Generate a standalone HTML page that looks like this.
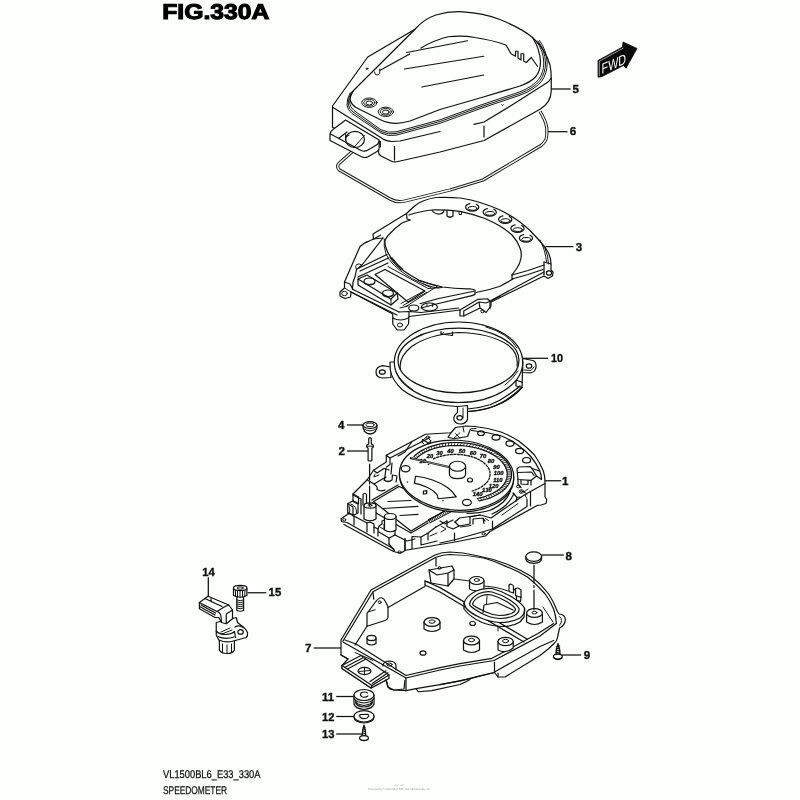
<!DOCTYPE html>
<html><head><meta charset="utf-8">
<style>
html,body{margin:0;padding:0;background:#fdfffd;}
body{width:800px;height:800px;overflow:hidden;font-family:"Liberation Sans",sans-serif;}
svg{display:block;position:absolute;left:0;top:0;will-change:transform;}
text{text-rendering:geometricPrecision;}
.l{fill:none;stroke:#111;stroke-width:1.22;stroke-linecap:round;stroke-linejoin:round;}
.t{fill:none;stroke:#111;stroke-width:.98;stroke-linecap:round;stroke-linejoin:round;}
.w{fill:#fdfffd;stroke:#111;stroke-width:1.22;stroke-linecap:round;stroke-linejoin:round;}
.wt{fill:#fdfffd;stroke:#1a1a1a;stroke-width:.7;stroke-linecap:round;stroke-linejoin:round;}
.n{font-family:"Liberation Sans",sans-serif;font-weight:bold;font-size:11.6px;fill:#111;stroke:#111;stroke-width:.35px;}
.ld{fill:none;stroke:#111;stroke-width:1.25;}
</style></head><body>
<svg width="800" height="800" viewBox="0 0 800 800">
<rect width="800" height="800" fill="#fdfffd"/>
<!-- TITLE -->
<text x="162.3" y="18.7" font-family="Liberation Sans" font-weight="bold" font-size="21.3" fill="#000" stroke="#000" stroke-width="1.1" textLength="107" lengthAdjust="spacingAndGlyphs">FIG.330A</text>
<!-- FOOTER -->
<text x="163" y="778.3" font-family="Liberation Sans" font-size="11.2" fill="#111" stroke="#111" stroke-width=".25" textLength="97.5" lengthAdjust="spacingAndGlyphs">VL1500BL6_E33_330A</text>
<text x="163" y="793.8" font-family="Liberation Sans" font-size="11.2" fill="#111" stroke="#111" stroke-width=".25" textLength="64" lengthAdjust="spacingAndGlyphs">SPEEDOMETER</text>
<text x="368" y="789.6" font-family="Liberation Sans" font-size="3" fill="#9a9a9a" textLength="61.8" lengthAdjust="spacingAndGlyphs">Powered by © 2004-2017 EPC Net AlphaCentre, Inc</text>
<text x="394.4" y="786.3" font-family="Liberation Sans" font-size="1.8" fill="#aaa" textLength="10" lengthAdjust="spacingAndGlyphs">EPC NET</text>
<!--PART6-->
<g id="p6">
<path d="M354,150 L339,163.5 Q336,166.5 339.5,170 L390,199 Q397,203 405,201 L450,190 L483,180 L541,145.5 Q546.8,141 546.8,135 L546.8,128 Q545.5,120 540,111.5" fill="none" stroke="#1a1a1a" stroke-width="3.2" stroke-linejoin="round"/>
<path d="M354,150 L339,163.5 Q336,166.5 339.5,170 L390,199 Q397,203 405,201 L450,190 L483,180 L541,145.5 Q546.8,141 546.8,135 L546.8,128 Q545.5,120 540,111.5" fill="none" stroke="#fdfffd" stroke-width="1.3" stroke-linejoin="round"/>
</g>

<!--PART5-->
<g id="p5">
<!-- silhouette -->
<path class="w" d="M332.5,106 L367.75,57 L415,29.25 C421,22.5 428,17.5 436,15 C445,12.3 455,11.3 463,11.8 C476,12.5 490,15.5 500,19.5 C512,24.5 525,31 532.5,37.5 C540,44 547,55 550,65 C551,70 551.25,75 551.25,78 L551.25,91 C551,99 548,104.5 540,109.3 L484,140.5 L440,152 L398,161.5 Q394,162.5 391,161 L381,156 Q378.5,154.5 378.5,152 L378.5,140 L332.5,127.5 Z"/>
<!-- skirt top edge c -->
<path class="l" d="M333,107.5 L380,137 Q386,141.5 392,141.5 L400,141 L440,131.5"/>
<!-- crease right -->
<path class="l" d="M474,124.4 L484,122 L512,105 L545,84 Q550,81 551.2,78"/>
<path class="l" d="M484,126 L484,137"/>
<path class="l" d="M394.5,146.5 L394.5,160"/>
<path class="t" d="M380.5,141.5 L380.5,147"/>
<!-- seams -->
<path class="t" d="M351.5,92 Q348,98 348.2,104 Q348.5,108.5 353,112 L381,131.5 Q388,135 396,133.5 L440,121.5 L480,107 L520,93.5 Q534,88 540,80.5 Q545.5,73 545.5,63 Q545,50 538,41"/>
<path class="t" d="M350,93 Q346.8,99 347,105 Q347.5,110 352,113.5 L381,133 Q388,136.8 396,135.2 L440,123.3 L480,108.7 L520,95.2 Q535,89.5 541.5,81.5 Q547.2,73.5 547.2,63 Q546.5,50 539.5,40.5"/>
<path class="t" d="M353,91 Q349.6,97 349.6,103 Q350,107 354,110.5 L381,129.8 Q388,133.2 396,131.8 L440,119.8 L480,105.3 L520,91.8 Q533,86.5 538.5,79.5 Q543.8,72.5 543.8,63 Q543.5,50 536.5,41.5"/>
<!-- dome top edge e -->
<path class="l" d="M415,29.25 L354,90 Q349,96 350.5,101 Q351.5,104.5 356,107.5 L380,119.5 Q388,123.5 397,123.3 Q403,123 410,121 L440,109.5 L480,98 L520,86 Q530,82.5 535.5,77 Q540.5,71 540.5,62 Q540,49 532.5,37.5"/>
<!-- crease lines on dome -->
<path class="l" d="M406.75,52.5 L467.5,40.75"/>
<path class="l" d="M404.5,69 L483.75,56.25"/>
<path class="l" d="M421.75,87 L483.75,75"/>
<path class="l" d="M421,48 Q433,40.5 448,36.75 Q462,35 475,37.5 Q492,40 506,45 L511,53.75 L515.5,56.25 L515.5,51.25 L518,51.25 L518,58 L521,60 L521,53.75 L523.75,53.75 L523.75,61.25 L526.25,62.5 L531.25,57.5 L537.5,66.25"/>
<path class="l" d="M409.75,54 L379.75,70.5"/>
<path class="t" d="M379.75,69 Q380.5,75 377,75 Q374.5,75 374.5,72"/>
<circle cx="367" cy="68.7" r=".8" class="t"/>
<path class="t" d="M501.6,104.8 Q502.4,106.8 503.4,104.8"/>
<!-- bolts -->
<g class="t"><ellipse cx="369.3" cy="102.7" rx="7.6" ry="4.7"/><ellipse cx="369.3" cy="102.7" rx="5.6" ry="3.4"/><ellipse cx="369.3" cy="103" rx="3.4" ry="2"/>
<ellipse cx="385.8" cy="111.8" rx="7.6" ry="4.7"/><ellipse cx="385.8" cy="111.8" rx="5.6" ry="3.4"/><ellipse cx="385.8" cy="112.1" rx="3.4" ry="2"/></g>
<!-- tab -->
<path class="w" d="M345.6,120 L333,129.5 Q330,131.5 330,134.5 L330,140.5 L361.5,156.7 Q365,158.3 368,156.7 L377,151.5 Q379.2,150.3 379.2,148 L379.2,140 Z"/>
<path class="l" d="M330.6,134 L361,150.5 Q364.5,152 367.5,150.3 L376.5,145 Q379,143.5 379.1,141"/>
<ellipse class="l" cx="355" cy="139.4" rx="9.4" ry="8.1"/>
<path class="t" d="M364.5,135.5 L354,147.2"/>
<path class="l" d="M338.7,138.2 L347,132"/><path class="l" d="M345.7,134.5 L345.7,140"/>
<path class="t" d="M346,137 L349,135.3"/>
</g>

<!--PART3-->
<g id="p3">
<path class="w" d="M406.5,213.5 L414,206.5 Q418,203 423,201 Q429,198.5 436,197.5 Q448,197 460,198 Q472,199.8 480,202.5 Q491,206 500,210 Q511,215.5 520,222 Q530,229.5 538,239 Q545,247 548,252 Q551,258 551,264 L551,270 L553,272 L552.5,276 L548,278.5 L544,276 L491,302 L491,306 L486,312.5 L480,308 L463.75,316 L460,316 L460,310 L409,316.5 L408.5,324 L404,330 L397.25,330 L392.75,324 L392.75,314 L351,292 L350.5,297 L345,298.5 L340,296 L340,292 L344.5,288 L344.5,282 L360,246.5 L364,243.5 L373.5,239 L373,234 Z"/>
<!-- back inner edge of ring (double) -->
<path class="l" d="M410,220 L407,219 L406.5,213.5 M409,215 Q414,213 420,212 Q426,210.5 432,210 Q446,209.8 460,211.3 Q473,214 485,218.5 Q493,222 500,226 Q507,230.5 512,235 Q517.5,241 520,248 Q522,253 521,258 Q520,264 517,268 L512,275" stroke-width="1.4"/>
<!-- ring right front end -->
<path class="l" d="M512,275 L512,279 L528,274.5 L543,269.5"/>
<path class="l" d="M512,275 L528,270.5 L544,265"/>
<path class="l" d="M513,279 Q506,283 500,286.25 Q488,290.5 476,292.5"/>
<path class="l" d="M490,301.25 L500,296.25"/>
<!-- d arc & arm -->
<path class="l" d="M410,220 L402,223 Q395,228 390,233.5 Q385.5,238 385,241 Q384.8,245 386,248 Q388,254 392,259 Q397,265 404,271 Q411,276 418.75,280 Q430,284.5 442.5,287 Q456,289 470,288.75 L475,290 L475,294.4 L472,295.6"/>
<path class="l" d="M473.75,291.25 L437.5,298.75 L420,303.75"/>
<path class="l" d="M472,295.6 L437.5,303.75 L421,308"/>
<path class="t" d="M384.3,239 Q383.3,246 386,254 Q389,260 393,264 Q398.5,270 405,274 Q412,279 420,282.5 Q427,285.5 433,287 L439,288"/>
<path class="t" d="M390,258 Q394,264 401,270 M392,257.5 Q396,263.5 403,269.5"/>
<!-- gusset -->
<path class="l" d="M383,238 L362,265 L356.5,269.5"/>
<path class="l" d="M383,238 L373.5,239"/>
<path class="t" d="M356.5,269.5 Q354.5,266.5 356.5,264.5 Q359,263 362,265"/>
<path class="t" d="M364,243.5 Q365,241.5 368,241.5"/>
<path class="l" d="M373.5,239 L380.5,235.2"/>
<!-- panel frame -->
<path class="l" d="M359,268 L387,254.5"/>
<path class="l" d="M360,271 L388.5,258"/>
<path class="l" d="M358,277 L388,263"/>
<path class="l" d="M356.5,269.5 L355,277 L353,282 L352.5,289"/>
<path class="l" d="M344.5,282 L350,284 L353,289.5"/>
<path class="l" d="M375,274.5 L385,269.5 L425,291 L408,302 Z"/>
<path class="t" d="M388,266.5 L428,288.5 L442,287.5"/>
<path class="t" d="M403,305.5 L426.5,292.5 M401,303.5 L424,291"/>
<path class="t" d="M418,280.5 L437.5,286 L406,306.5"/>
<path class="t" d="M422,283.5 L431,287.5"/>
<!-- block -->
<path class="w" d="M358,279 L367,275 L397,293 L398,299 L391,305 L358,285 Z"/>
<path class="l" d="M358,279 L391,299 L397,293"/><path class="t" d="M391,299 L391,305"/>
<ellipse class="l" cx="369.5" cy="281.5" rx="5.5" ry="3.5"/><path class="t" d="M364.6,283 Q369.5,286.3 374.6,282.8"/>
<ellipse class="l" cx="388" cy="293.5" rx="5.5" ry="3.5"/><path class="t" d="M383.2,295 Q388,298.3 393.2,294.8"/>
<!-- bottom rail -->
<path class="l" d="M351,292 L397,315" stroke-width="1.7"/>
<path class="l" d="M353,289.5 L399,312"/>
<path class="l" d="M399,312 L409,311.5 L421,312.5 L458.75,308"/>
<path class="l" d="M409,316.5 L409,311.5"/>
<ellipse class="l" cx="413.75" cy="308" rx="5" ry="3"/>
<ellipse class="l" cx="429.4" cy="307" rx="8" ry="4"/>
<path class="t" d="M427,304.5 L427,306.5 M432.5,304.5 L432.5,306.5"/>
<path class="t" d="M400,308 L408,306"/>
<!-- foot -->
<path class="l" d="M392.75,318 Q400,322 408.5,318"/>
<ellipse class="t" cx="400" cy="325" rx="2.6" ry="2"/>
<ellipse class="t" cx="344.5" cy="293.5" rx="2.8" ry="2.2"/>
<path class="t" d="M344.5,288 L351,292"/>
<!-- bottom-right mount -->
<path class="l" d="M460,310 L477.5,299.4 L487.5,298.75 L490,301.25 L490,308.75"/>
<path class="l" d="M463.75,316 L463.75,311 L479,302 L486,303 L490,301.25 M479,302 L480,308"/>
<ellipse class="t" cx="482.5" cy="311.3" rx="1.8" ry="1.4"/>
<path class="l" d="M491,300.5 L544,272" stroke-width="1.8"/>
<!-- right mount -->
<path class="l" d="M544,262 L551,264"/>
<path class="l" d="M544,262 L544,275"/>
<ellipse class="l" cx="549" cy="273" rx="2.6" ry="2.2"/>
<path class="t" d="M545,248 Q548.5,256 548.5,264"/>
<path class="t" d="M540,240 Q545.5,250 546.5,262"/>
<!-- holes -->
<g class="l">
<ellipse cx="472.25" cy="207.25" rx="6.6" ry="3.9" stroke-dasharray="22.5 6.5 6"/><ellipse cx="472.45" cy="208.35" rx="4.6" ry="1.9" stroke-width="1"/><ellipse cx="489.75" cy="212.25" rx="6.6" ry="3.9" stroke-dasharray="22.5 6.5 6"/><ellipse cx="489.95" cy="213.35" rx="4.6" ry="1.9" stroke-width="1"/><ellipse cx="505.25" cy="219.50" rx="6.6" ry="3.9" stroke-dasharray="22.5 6.5 6"/><ellipse cx="505.45" cy="220.60" rx="4.6" ry="1.9" stroke-width="1"/><ellipse cx="517.50" cy="228.50" rx="6.6" ry="3.9" stroke-dasharray="22.5 6.5 6"/><ellipse cx="517.70" cy="229.60" rx="4.6" ry="1.9" stroke-width="1"/><ellipse cx="526.00" cy="238.25" rx="6.6" ry="3.9" stroke-dasharray="22.5 6.5 6"/><ellipse cx="526.20" cy="239.35" rx="4.6" ry="1.9" stroke-width="1"/>
</g>
<!-- back tabs -->
<path class="l" d="M432,210.5 Q435,214.5 440,214 Q444,213 444,210"/>
<path class="l" d="M447,210.5 L447,216 Q450,218.5 453,216 L453,211"/>
<path class="t" d="M459,212 L459,214.5 L461.5,214.5 L461.5,212"/>
</g>

<!--PART10-->
<g id="p10">
<!-- tabs -->
<path class="w" d="M391,367 L382.5,365.6 Q376,367 376,372 Q376,377.5 382.5,378 L391,377.5 Z"/>
<ellipse class="l" cx="382.3" cy="372" rx="3" ry="2.2"/>
<path class="w" d="M522.5,358.5 L533,360.5 Q536.5,362 536,367.5 Q535,372.5 530,372.8 L522.5,372.5 Z"/>
<ellipse class="l" cx="529" cy="366" rx="2.8" ry="2.2"/>
<path class="t" d="M524,370 L531,370.5 L534,367"/>
<!-- flange outer -->
<path class="w" d="M390,362 L390.3,370 Q392,380 402,389.5 Q414,399 432,403 Q445,406 457,406.5 L468,411.5 Q486,410.5 502,403 Q515,396 522,387.5 L522.8,362 Z"/>
<path class="w" d="M457.5,406.5 L467.5,405.5 L467.5,419.5 Q466,423.5 461,424 Q455.5,424 454,420 Q453,416 457.5,412.5 Z"/>
<ellipse class="l" cx="459.7" cy="417.8" rx="2.8" ry="2.2"/>
<path class="t" d="M463,408 L463,418"/>
<path class="l" d="M467.5,409 Q480,408 490,404.75 Q500,401 508,395 Q516,389.5 520,386"/><path class="l" d="M467.5,411.5 Q480,411 490,407.75 Q502,403.5 511,396.5 Q518,391.5 521.5,387.5"/>
<path class="l" d="M516,380 L522.5,382.5 M516,380 L516,386 L522.5,387.5"/>
<!-- E1 -->
<ellipse class="w" cx="458.5" cy="362.25" rx="64.2" ry="40.25"/>
<!-- highlight lines -->
<path class="t" d="M396,372 Q400,381 413,390"/>
<path class="t" d="M399,356 Q404,343 422,334"/>
<path class="t" d="M401.5,357 Q407,345 428,335"/>
<path class="t" d="M486,327 Q508,333 517,348"/>
<path class="t" d="M505,385 Q513,379 518,371"/>
<!-- E2 -->
<ellipse class="w" cx="458.5" cy="360.5" rx="60.5" ry="32.3"/>
<!-- E3 far inside wall lower edge -->
<path class="l" d="M400.5,370 Q398,358 411,347 Q428,334.5 458,332.5 Q490,333 508,345 Q519,354 517,366"/>
<path class="l" d="M441,331.5 L441,334 L452.5,335.5 L452.5,332"/>
<path class="t" d="M441,334 L443.5,332.6"/>
</g>

<!--PART1-->
<g id="p1">
<path class="w" d="M425.5,434.25 L451,432.75 L455.5,427.5 L466,426 L475,426.5 Q489,428 501,432 Q511,436 518.75,441 Q528,448 534.5,455 Q540,463 543.25,470.75 Q545,476 545,481.25 L545,497 L546.8,499.5 L546,503.5 L541,505 L537.5,505.3 L490,531.5 L485.5,536 L455,542 L405.5,550.25 L401,553 L395,552 L393.5,548.75 L347,522.5 L341.75,521.75 L341,518.75 L347.75,514.25 L347.75,503.75 L353,500.75 L353,494 L367.25,479.75 L373.5,470.25 L386.25,462 L386.25,455.25 Z"/>
<!-- inner rim arc -->
<path class="l" d="M471.5,430.5 Q487,432 501,435.75 Q510,439.5 517,444.5 Q525,450 531,456.75 Q536.5,463.5 539.75,470.75 Q541.5,475 541.5,479.5"/>
<!-- rim holes -->
<g class="l"><ellipse cx="481" cy="433.2" rx="3.3" ry="2.3"/><ellipse cx="496" cy="437.5" rx="3.9" ry="2.6"/><ellipse cx="510" cy="443.6" rx="4" ry="2.7"/><ellipse cx="519.6" cy="451" rx="4" ry="2.7"/><ellipse cx="526.6" cy="460.2" rx="4" ry="2.7"/></g>
<!-- back bracket -->
<path class="l" d="M451,432.75 L448,437.25 L454,438.75 L467.5,436.5 L470.5,429 L476,428.5"/>
<path class="l" d="M422.5,439.5 L430,444 L430.75,440.25"/>
<path class="t" d="M455.5,433.5 L460,438 M460,432.75 L454,438 M463,427 L464,432"/>
<path class="t" d="M426.5,437 L421,441.5 L424,444 M428,438 L431,441 L427,444"/>
<ellipse class="t" cx="427.75" cy="437.25" rx="1.6" ry="1.2"/>
<!-- left/top wall lines -->
<path class="l" d="M386.25,455.25 L390,458 L430,437.5"/>
<path class="l" d="M390,458 L390,464.5 L386.5,467"/>
<path class="l" d="M412,441.5 L405,452 L398,456"/>
<path class="l" d="M373.5,470.25 L377,473 L384,468.5 L389,470"/>
<path class="t" d="M375,474 L373.8,477 L379,475"/>
<path class="l" d="M386,468 L384.5,480 M392,463 L391,474"/>
<path class="l" d="M384,480 Q388,483 392,480 L392.5,475 L397,476 L396,482"/>
<path class="l" d="M367.25,479.75 L374,484 L386,477"/>
<path class="l" d="M374,484 Q378,486.5 377,489.5 Q381,492 385,490"/>
<path class="l" d="M353,494 L358.5,497 L358.5,503.5"/>
<path class="l" d="M347.75,503.75 L353,507 L353,516"/>
<path class="l" d="M353,500.75 L358.5,503.5"/>
<path class="t" d="M349,506 Q351,510 349,514.5"/>
<ellipse class="t" cx="344.2" cy="519.8" rx="1.6" ry="1.2"/>
<!-- front-left wall details -->
<path class="l" d="M353,501.5 L358,504 L358,513 L354,515 L348.5,513"/>
<path class="t" d="M351,504 Q357,506 356.5,513"/>
<path class="l" d="M353,495 L361,499 L361,514"/>
<path class="l" d="M348.5,513 L354,516 L367,523 L370,522"/>
<path class="l" d="M354,516 L354,525 M367,523 L367,532"/>
<path class="l" d="M370,522 L374,524 L374,533"/>
<path class="l" d="M374,527 L378,529 L379,526 L382,524 L382,521 L384.5,520"/>
<path class="l" d="M378,529 L378,536 M379,532 L389,538 L389,544"/>
<path class="l" d="M389,538 L395,535 L395,530"/>
<path class="l" d="M395,535 L407,541 L415,539"/>
<path class="l" d="M389,544 L394,550"/>
<path class="t" d="M380,527 L384,529.5 L384,524"/>
<path class="l" d="M344,524.5 L393.5,551.5" stroke-width="1.6"/>
<ellipse class="t" cx="399.5" cy="552.2" rx="1.7" ry="1.3"/>
<path class="l" d="M405,541 L405,550"/>
<!-- LCD panel -->
<path class="w" d="M373.5,501.5 L399,486.5 L449,508.25 L411,531 Z"/>
<path class="l" d="M372.5,503 L376,513 L411,533 L428,523"/>
<path class="l" d="M372,500 L398,485" stroke-width="1.6"/>
<path class="l" d="M388,501.5 L411,500.5 M383,508.5 L418,506.3 M400,515.5 L418,514.4"/>
<!-- ribbed connector -->
<path d="M429,521.3 L450,510.300" fill="none" stroke="#111" stroke-width="3.2" stroke-dasharray=".8 1"/>
<path class="t" d="M428.2,519.7 L449.2,508.6 M429.8,523 L450.8,512"/>
<!-- posts -->
<path class="w" d="M364,505.5 L364,519 Q370,522.5 376,519 L376,505.5 Z"/>
<ellipse class="w" cx="370" cy="505.5" rx="6" ry="2.7"/>
<ellipse class="t" cx="370" cy="505.3" rx="2" ry="1"/>
<path class="l" d="M363,494.5 Q364.7,492 366.5,494.5 L366.5,503.5 M363,494.5 L363,505"/>
<path class="w" d="M384.5,516.5 L384.5,530 Q390.2,533.5 396,530 L396,516.5 Z"/>
<ellipse class="w" cx="390.2" cy="516.5" rx="5.8" ry="3"/>
<!-- right block -->
<path class="w" d="M517,469 L519,467 L530,466.5 L532,468.5 L536.5,476 L531,480.4 L518,479.5 Z"/>
<path class="l" d="M518,472.5 L531.5,472 L534,475.5 M518,479.5 L518,484 L521,487.5 M531,480.4 L531,485"/>
<path class="l" d="M521,480 L521,484 L528,484.5 L528,480.5"/>
<path class="l" d="M536.5,476 L541.5,479.5 M532,468.5 L539.5,471"/>
<ellipse class="t" cx="518.3" cy="486.5" rx="1.8" ry="1.4"/>
<ellipse class="t" cx="521.5" cy="491.5" rx="2.3" ry="1.8"/><ellipse class="t" cx="521.5" cy="491.5" rx="1" ry=".8"/>
<!-- front right wall -->
<path class="l" d="M545,483.5 L530.5,491.5 L530.5,506"/>
<path class="l" d="M530.5,491.5 L525,494.5 L491,518 L480.5,515 L459.5,518 L455,522"/>
<path class="l" d="M527,499 L527,506.5 L492.5,529 L455,539.75 L440,543"/>
<path class="l" d="M492.5,521 L492.5,529 M454.5,533 L454.5,541"/>
<path class="l" d="M510.5,491 Q508,497.5 503,502.25 Q497,507.5 489.5,510.5 Q479,513.5 467,513.5"/>
<path class="l" d="M514,493.5 Q511,500 506,505 Q500,510.5 492,514"/>
<path class="t" d="M502,515 L518,503.5"/>
<path class="l" d="M513,493 L517,497.5 L516,501.5 M517,497.5 L520,497"/>
<path class="t" d="M525,495 L526.5,498 M528,489 L524,492 L527,494"/>
<path class="l" d="M455,522 L459,526 L470,524 L470,517 L480,515"/>
<path class="l" d="M473,524 L473,519 L483,518 L485,521 M483,518 L484,523.5"/>
<path class="l" d="M459,526 L453,529 L447,526.5 L447,521"/>
<path class="t" d="M460.5,527 L471,525.5 M485.5,518.5 L488.5,520.5"/>
<ellipse class="t" cx="483.5" cy="533.8" rx="1.6" ry="1.2"/>
<path class="l" d="M440,521 L445,524 L453,520 M436,527 L447,521 M428,533 L428,540 M421,537 L421,545 L437,541"/>
<path class="l" d="M412,536.5 L412,548.5 M412,536.5 L421,537 L428,533 L436,527"/>
<path class="l" d="M405,538.5 L405,550"/>
<path class="t" d="M441,526 L446,529 L441,532 M430,536 L437,533"/>
<!-- dial -->
<ellipse class="w" cx="456.6" cy="476.8" rx="57.2" ry="35.2" transform="rotate(3 456.6 476.8)"/>
<ellipse class="w" cx="456.6" cy="475.2" rx="57.2" ry="35" transform="rotate(3 456.6 475.2)"/>
</g>

<g id="p1dial">
<path d="M416.3,458.6 L413.9,456.5 M417.7,457.2 L415.5,455.0 M419.4,455.8 L417.3,453.5 M421.1,454.5 L419.2,452.1 M423.1,453.3 L421.3,450.8 M425.1,452.2 L423.5,449.5 M427.3,451.1 L425.9,448.4 M429.6,450.1 L428.4,447.3 M432.1,449.2 L431.0,446.4 M434.6,448.4 L433.7,445.5 M437.2,447.7 L436.6,444.8 M439.9,447.1 L439.5,444.1 M442.7,446.6 L442.5,443.6 M445.5,446.2 L445.5,443.1 M448.4,445.9 L448.6,442.8 M451.4,445.6 L451.8,442.6 M454.3,445.5 L455.0,442.5 M457.3,445.5 L458.2,442.5 M460.3,445.6 L461.4,442.6 M463.3,445.8 L464.6,442.9 M466.3,446.1 L467.8,443.3 M469.2,446.6 L470.9,443.7 M472.1,447.1 L474.1,444.3 M474.9,447.7 L477.1,445.0 M477.7,448.4 L480.1,445.8 M480.5,449.2 L483.0,446.7 M483.1,450.1 L485.8,447.7 M485.6,451.0 L488.5,448.8 M488.1,452.1 L491.2,450.0 M490.4,453.2 L493.6,451.2 M492.6,454.4 L496.0,452.6 M494.7,455.7 L498.2,454.0 M496.6,457.1 L500.3,455.5 M498.4,458.5 L502.2,457.1 M500.1,459.9 L504.0,458.7 M501.6,461.4 L505.6,460.4 M502.9,463.0 L507.0,462.1 M504.0,464.6 L508.2,463.8 M505.0,466.2 L509.2,465.6 M505.8,467.9 L510.1,467.4 M506.5,469.5 L510.7,469.3 M506.9,471.2 L511.2,471.1 M507.2,472.9 L511.5,473.0 M507.3,474.6 L511.5,474.8 M507.1,476.2 L511.4,476.7 M506.9,477.9 L511.1,478.5 M506.4,479.5 L510.5,480.3 M505.7,481.1 L509.8,482.1 M504.9,482.7 L508.9,483.8 M503.9,484.3 L507.8,485.5 M502.7,485.8 L506.5,487.1 M501.3,487.2 L505.0,488.7 M499.8,488.6 L503.4,490.2 M498.2,490.0 L501.6,491.7 M496.3,491.2 L499.6,493.1 M494.4,492.4 L497.5,494.4 M492.3,493.5 L495.2,495.6 M490.1,494.6 L492.8,496.7 M487.7,495.5 L490.3,497.7 M485.3,496.4 L487.7,498.7 M482.7,497.2 L484.9,499.5 M480.1,497.9 L482.0,500.2 M477.3,498.5 L479.1,500.9" fill="none" stroke="#111" stroke-width=".8"/>
<path class="l" d="M413.9,456.5 L415.6,454.9 L417.4,453.4 L419.4,452.0 L421.6,450.6 L423.9,449.3 L426.4,448.2 L429.0,447.1 L431.7,446.1 L434.6,445.3 L437.5,444.5 L440.6,443.9 L443.7,443.4 L446.9,443.0 L450.1,442.7 L453.4,442.5 L456.7,442.5 L460.0,442.6 L463.3,442.8 L466.6,443.1 L469.9,443.6 L473.1,444.1 L476.3,444.8 L479.4,445.6 L482.4,446.5 L485.4,447.5 L488.2,448.6 L490.9,449.9 L493.5,451.2 L495.9,452.5 L498.2,454.0 L500.4,455.6 L502.3,457.2 L504.1,458.9 L505.8,460.6 L507.2,462.4 L508.4,464.2 L509.4,466.1 L510.3,467.9 L510.9,469.8 L511.3,471.7 L511.5,473.7 L511.5,475.6 L511.3,477.5 L510.8,479.3 L510.2,481.2 L509.4,483.0 L508.3,484.8 L507.0,486.5 L505.6,488.1 L504.0,489.7 L502.2,491.3 L500.2,492.7 L498.0,494.1 L495.7,495.3 L493.2,496.5 L490.6,497.6 L487.9,498.6 L485.1,499.5 L482.1,500.2 L479.1,500.9"/>
<path class="l" d="M416.3,458.6 L417.8,457.1 L419.5,455.7 L421.3,454.4 L423.3,453.1 L425.5,452.0 L427.8,450.9 L430.2,449.9 L432.7,449.0 L435.4,448.2 L438.1,447.5 L440.9,446.9 L443.8,446.4 L446.8,446.0 L449.8,445.7 L452.9,445.6 L455.9,445.5 L459.0,445.6 L462.1,445.7 L465.2,446.0 L468.2,446.4 L471.2,446.9 L474.2,447.5 L477.1,448.2 L479.9,449.0 L482.7,449.9 L485.3,450.9 L487.8,452.0 L490.2,453.1 L492.5,454.4 L494.7,455.7 L496.7,457.1 L498.5,458.6 L500.2,460.1 L501.7,461.6 L503.1,463.3 L504.3,464.9 L505.2,466.6 L506.0,468.3 L506.6,470.0 L507.0,471.8 L507.2,473.5 L507.2,475.2 L507.0,477.0 L506.7,478.7 L506.1,480.3 L505.3,482.0 L504.3,483.6 L503.2,485.2 L501.9,486.7 L500.4,488.2 L498.7,489.6 L496.8,490.9 L494.9,492.1 L492.7,493.3 L490.4,494.4 L488.0,495.4 L485.5,496.3 L482.9,497.1 L480.1,497.8 L477.3,498.5"/>
<g font-family="Liberation Sans" font-weight="bold" font-style="italic" font-size="5.8" fill="#111" stroke="#111" stroke-width=".35" text-anchor="middle">
<text x="422.7" y="463.0">10</text>
<text x="430.0" y="458.2">20</text>
<text x="439.5" y="454.8">30</text>
<text x="450.4" y="453.0">40</text>
<text x="461.9" y="453.0">50</text>
<text x="473.1" y="454.8">60</text>
<text x="483.1" y="458.2">70</text>
<text x="491.0" y="463.1">80</text>
<text x="496.4" y="468.9">90</text>
<text x="498.7" y="475.2">100</text>
<text x="497.8" y="481.6">110</text>
<text x="493.7" y="487.5">120</text>
<text x="486.8" y="492.4">130</text>
<text x="477.6" y="496.0">140</text>
</g>
<path d="M433.0,459.1 L434.5,458.4 L436.0,457.8 L437.6,457.2 L439.3,456.7 L441.0,456.2 L442.8,455.8 L444.6,455.4 L446.5,455.1 L448.3,454.8 L450.2,454.6 L452.2,454.5 L454.1,454.4 L456.0,454.4 L458.0,454.5 L459.9,454.6 L461.8,454.7 L463.7,455.0 L465.6,455.3 L467.4,455.6 L469.2,456.0 L471.0,456.5 L472.7,457.0 L474.3,457.6 L475.9,458.2 L477.5,458.9 L478.9,459.6 L480.3,460.4 L481.6,461.2 L482.9,462.1 L484.0,463.0 L485.1,463.9 L486.0,464.8 L486.9,465.8 L487.7,466.8 L488.3,467.9 L488.9,468.9 L489.3,470.0 L489.7,471.1 L489.9,472.2 L490.1,473.3 L490.1,474.4 L490.0,475.4 L489.8,476.5 L489.5,477.6 L489.1,478.7 L488.6,479.7 L488.0,480.8 L487.2,481.8 L486.4,482.8 L485.5,483.7 L484.5,484.6 L483.4,485.5 L482.2,486.4 L480.9,487.2 L479.6,488.0 L478.1,488.7 L476.6,489.4 L475.0,490.0 L473.4,490.6 L471.7,491.1" fill="none" stroke="#111" stroke-width="1.3" stroke-dasharray="3 .5"/>
<!-- needle -->
<path d="M410,458 L448.75,467" fill="none" stroke="#111" stroke-width="2"/>
<path d="M412,458.5 L448,466.8" fill="none" stroke="#fdfffd" stroke-width=".5"/>
<!-- hub -->
<path class="w" d="M449.4,466.25 L449.4,473.75 Q449.4,478.7 457.5,478.7 Q465.6,478.7 465.6,473.75 L465.6,466.25 Z"/>
<ellipse class="w" cx="457.5" cy="466.25" rx="8.1" ry="5"/>
<!-- holes -->
<ellipse class="l" cx="405.6" cy="468.75" rx="4.4" ry="3.1"/>
<ellipse class="l" cx="470" cy="480" rx="2.5" ry="2"/>
<ellipse class="l" cx="466.9" cy="502.5" rx="4.4" ry="3.1"/>
<!-- window -->
<path class="l" d="M415.6,476.25 Q424,477 432.5,480 Q441,483 447.5,487.5 Q453,491.5 456.25,496.9 L438.1,498.75 Q438,495 436.25,493.75 Q433,490 427.5,487.5 Q421,484.5 414.4,483.1 Z"/>
<path class="l" d="M423.5,491 L426.8,490.6 L426.6,493.6 L423.3,494 Z"/>
<circle cx="407.5" cy="482" r=".8" fill="#111"/><circle cx="443" cy="500.7" r=".8" fill="#111"/>
<circle cx="428.5" cy="464.5" r=".8" fill="#111"/>
</g>
<!--PART7-->
<g id="p7">
<!-- silhouette -->
<path class="w" d="M341,640 L371,590 L435,555 Q442,552 450,552 Q463,552.5 475,555.25 Q492,558.5 506.5,564 Q520,569.5 531,576.25 Q541,584 548.5,593.75 Q554,602 557.25,611.25 L559,614 Q565.5,614.5 565.3,620 Q565,625.5 559.5,628 L557.5,637.5 Q557,641 554,643.5 L548.8,648.5 L540,655.5 L505,677 L498,677 L494.5,672.5 L460,680.8 L440,684.7 L416,688.6 L406,690.6 L394,690 L388,687 L386,680 L371,688 L342,668.5 L342,665.5 L348,659 L341,655 Z"/>
<!-- rim inner line -->
<path class="l" d="M343,641 L373,591.7 L436,557.2 Q443,554.5 450,554.5 Q468,555 483.75,558 Q496,561.5 506.5,566.6 Q518,571 527.5,577 Q537,584.5 545,593.75 Q551,602 553.75,609.5 Q556,616 556.4,623.5"/>
<!-- front-left inner top edge -->
<path class="l" d="M343,642 L406,678 L440,670 L460,666 L494,660.5 L540,636 L556.4,623.5"/>
<path class="l" d="M345,640 L356,644 M356,644 L406,675.5 L440,667.6 L460,663.7 L492,658.3 L538,633.5 L553.75,623.5"/>
<path class="l" d="M406,678 L406,690.6"/>
<path class="l" d="M494.5,662 L494.5,672.5"/><path class="l" d="M494.5,672 L498,670 L540,646.5 L553.7,640.5 M498,673 L498,677"/><path class="t" d="M559.5,616.5 Q563.8,620 559.5,625.5"/>
<path class="l" d="M440,684.7 L460,680.8 Q471,678.5 480,675.8 L494.5,672.5"/>
<path class="l" d="M416,688.6 L418.25,691.75 L431.75,690.6 L460,684.5 Q466,682 470,679.5"/>
<!-- interior back-left wall bottom -->
<path class="l" d="M388,607.5 L424.75,586.5"/>
<!-- left box -->
<path class="l" d="M367,613.5 L367,626 M367,613.5 L375.25,602.25 Q378.5,597.5 381.5,597.75 Q384,598.5 385,600.75 L388,606.75 L388,617.25 Q387.5,620 383.5,621 L367,626.25"/>
<path class="t" d="M367.75,612 L375.25,609.75"/>
<circle class="t" cx="379.75" cy="602.25" r="1.4"/>
<path class="l" d="M373,592.5 L373.75,599.25"/>
<path class="l" d="M367,626.25 L355,645"/>
<!-- top box -->
<path class="l" d="M429,570 L452,566 L454,570 L454,579 L448,586 L431,583 Z"/>
<path class="l" d="M429,570 L437,575 L448,573 L454,570 M448,573 L448,586"/>
<path class="l" d="M436,558 L436,566"/>
<circle class="t" cx="439.6" cy="568" r="1.4"/>
<path class="l" d="M431,583 L425,581 L425,585"/>
<!-- rib (double) -->
<path class="l" d="M425,581 L440,587.6 L527.5,639.25"/>
<path class="l" d="M425,585 L440,592 L524,642"/>
<path class="t" d="M454,579 L470,581"/>
<!-- posts -->
<g>
<path class="w" d="M424,622 L424,629 Q432,634 440,629 L440,622 Z"/><ellipse class="w" cx="432" cy="622" rx="8" ry="4.4"/><ellipse class="t" cx="432" cy="621.6" rx="3" ry="1.7"/>
<path class="w" d="M367,638 L367,643.5 Q371.5,646.5 376,643.5 L376,638 Z"/><ellipse class="w" cx="371.5" cy="638" rx="4.5" ry="2.6"/>
<path class="w" d="M463.5,640.5 L463.5,650 Q471.5,655 479.5,650 L479.5,640.5 Z"/><ellipse class="w" cx="471.5" cy="640.5" rx="8" ry="4.4"/><ellipse class="t" cx="471.5" cy="640" rx="3" ry="1.7"/>
<path class="w" d="M498,641.5 L498,650 Q505.6,654 513.2,648 L513.2,641.5 Z"/><ellipse class="w" cx="505.6" cy="641.5" rx="7.6" ry="4.2"/><ellipse class="t" cx="505.6" cy="641" rx="3" ry="1.7"/>
<path class="w" d="M469.5,580.5 L469.5,589 Q476.75,593 484,589 L484,580.5 Z"/><ellipse class="w" cx="476.75" cy="580.5" rx="7.2" ry="4"/><ellipse class="t" cx="476.75" cy="580" rx="2.6" ry="1.5"/>
<path class="l" d="M383,666 Q383,661 389.500,661 Q396,661.5 396,666 L396,670"/><ellipse class="t" cx="389.5" cy="664.5" rx="2.6" ry="1.5"/>
</g>
<ellipse class="l" cx="423" cy="653" rx="3" ry="2.2"/>
<ellipse class="l" cx="472.6" cy="623.5" rx="2.8" ry="2"/>
<!-- oval gasket -->
<path class="w" d="M464,603 Q466,596 476,591 Q484,587.5 492,588.5 Q502,591 512,597 Q521,602.5 524.5,608 Q526,613 520,618 Q512,622.5 500,622.5 Q490,622 481,618 Q470,613 466,608 Z"/>
<path class="l" d="M469.5,604 Q471,597.5 479,593.5 Q486,591 492,592 Q501,594.5 509,599.5 Q517,604.5 519,608.5 Q519.5,612.5 514.5,615.5 Q508,618.5 500,618.5 Q491,618 484,614.5 Q475,610 470.5,606 Z"/>
<path class="l" d="M472.5,604 Q474,599 481,596 Q486.5,594 491.5,595 Q499,597 506.5,601.5 Q514,606 515.5,609 Q515.5,611.5 511.5,613.5 Q506,615.5 499.5,615.5 Q492,615 486,612 Q478,608.5 473.5,605.5 Z"/>
<path class="l" d="M483,612.5 L484,605 L497,602.5 L513,610"/>
<path class="t" d="M487,596 L486.5,604"/>
<path class="l" d="M464,603 L464,609 Q470,617 482,622.5 Q491,626 502,626.5 Q513,626.5 520,622 L524,617 L524.5,608"/>
<path class="t" d="M498,626.5 L498,631"/>
<!-- clips -->
<path class="l" d="M509,585 L509,591.5 L513.5,593 L513.5,586 Q511.2,583 509,585"/>
<path class="l" d="M515.5,588.5 L515.5,595.5 L521,597.5 L521,590 Q518.2,587 515.5,588.5"/>
<path class="l" d="M513.5,589 L515.5,590 M516.5,596 L516.5,600 L520.5,601.5 L521,597.5"/>
<path class="t" d="M484,586 Q498,587 508,591"/>
<!-- post under 8 -->
<path class="w" d="M526.6,613 L526.6,622 Q534.5,627 542.4,622 L542.4,613 Z"/><ellipse class="w" cx="534.5" cy="613" rx="7.9" ry="4.4"/><ellipse class="t" cx="534.5" cy="612.6" rx="2.4" ry="1.4"/>
<path class="t" d="M543,607 L553,622"/>
<!-- tab -->
<path class="w" d="M361,655.5 L342,665.5 L342,668.5 L371,688 L389,678.5 L389,675 Z"/>
<path class="l" d="M342,665.5 L372,685.5 L389,675"/>
<path class="l" d="M345,667.3 L363.5,657.5 M347.5,669 L365.5,659.3 M370,681.5 L386,670.8 M372.5,683.300 L388,672.8"/>
<path class="l" d="M371.5,685.5 L371.5,688"/>
<ellipse class="l" cx="364.5" cy="671" rx="6.5" ry="3.6"/>
<path class="t" d="M364.5,667.5 L364.5,674.5 M359,671.5 L370,670.5"/>
<path class="l" d="M341,655 L348,659"/>
<path class="l" d="M386,679.5 L388,687 Q390,690 394,690 L404,689 L405,680"/>
<path class="t" d="M355,652.500 L373,660.5"/>
</g>

<!--SMALL-->
<g id="small">
<!-- part 4 cap -->
<path class="w" d="M363,425.3 L363,428 Q363.3,429.5 364.3,430 L364.3,431.2 Q370,436.800 375.700,431.2 L375.7,430 Q376.7,429.500 377,428 L377,425.3 Z"/>
<ellipse class="w" cx="370" cy="425.1" rx="7" ry="3.4"/>
<ellipse class="t" cx="370" cy="424.9" rx="4.2" ry="1.9"/>
<path class="t" d="M363.3,428.5 Q370,433.5 376.7,428.5"/>
<!-- part 2 pin -->
<path class="w" d="M368.7,438.5 Q370,436.800 371.3,438.5 L371.3,444 L373.2,445 L373.2,447.300 L371.9,448.2 L371.9,460.5 Q370,461.5 368.1,460.5 L368.1,448.2 L366.8,447.300 L366.8,445 L368.7,444 Z"/>
<path class="t" d="M366.8,446.2 L373.2,446.2"/>
<path class="l" d="M369.6,464 L369.6,506" stroke-dasharray="16 2 2 2 40"/>
<!-- part 8 -->
<path class="w" d="M525.8,556.5 L525.8,558.5 Q526,563 533.7,563.3 Q541.4,563 541.6,558.5 L541.6,556.5 Z"/>
<ellipse class="w" cx="533.7" cy="556.6" rx="7.9" ry="4.7"/>
<path class="l" d="M534,565 L534,609.5" stroke-dasharray="18 2.5 2 2.5 40"/>
<!-- part 9 screw -->
<path class="l" d="M558,643.5 L556.3,650 L556,655 M558,643.5 L559.7,650 L560,655"/>
<path class="l" d="M556.5,646.8 L559.5,646 M556.3,648.8 L559.7,648 M556.2,650.8 L559.8,650 M556.1,652.800 L559.9,652 M556,654.6 L560,653.8" stroke-width=".9"/>
<ellipse class="w" cx="557.8" cy="656.6" rx="4.4" ry="2.4"/>
<path class="l" d="M553.5,657.800 Q557.8,661.5 562.2,657.8"/>
<!-- part 11 grommet -->
<path class="w" d="M354,695 L354,704 Q355,708.5 364,709.5 Q373,708.5 374,704 L374,695 Z"/>
<path class="l" d="M354,698.5 Q357,702.5 364,703 Q371,702.5 374,698.5"/>
<path class="l" d="M355.5,700.5 Q356,704.5 364,705.5 Q372,704.5 372.5,700.5"/>
<path class="l" d="M355.5,702.5 Q357,706.5 364,707 Q371,706.5 372.5,702.5"/>
<ellipse class="w" cx="364" cy="695" rx="10" ry="5.5"/>
<path class="l" d="M367.5,693 Q364.5,691 361,693 Q359.5,695.5 362.5,697 Q365.5,697.8 367.8,696"/>
<!-- part 12 washer -->
<ellipse class="w" cx="364" cy="717.3" rx="10" ry="5.7"/>
<ellipse class="w" cx="364" cy="716.3" rx="10" ry="5.7"/>
<path class="l" d="M360,714.5 L368,714.3 Q369.5,716 367,718 Q363,719.5 360.5,717.5 Q359,716 360,714.5 Z"/>
<!-- part 13 screw -->
<path class="l" d="M364,725 L362.6,731 L362.2,736 M364,725 L365.4,731 L365.8,736"/>
<path class="t" d="M362.9,728 L365.1,727.3 M362.7,730 L365.3,729.3 M362.5,732 L365.5,731.3 M362.4,734 L365.6,733.3 M362.3,735.8 L365.7,735.1"/>
<ellipse class="w" cx="364" cy="738" rx="4.4" ry="2.4"/>
<path class="t" d="M359.8,739.2 Q364,742.8 368.3,739.2"/>
<!-- part 15 bolt -->
<path class="w" d="M233.5,588 L233.5,595.5 Q240.2,599 246.9,595.5 L246.9,588 Z"/>
<ellipse class="w" cx="240.2" cy="588" rx="6.7" ry="2.6"/>
<ellipse class="t" cx="240.2" cy="588" rx="3" ry="1.2"/>
<path class="t" d="M235.5,590.5 L235.5,596.5 M237.5,591 L237.5,597.2 M240,591.2 L240,597.5 M242.5,591 L242.5,597.2 M244.8,590.5 L244.8,596.5"/>
<path class="l" d="M236.8,597.5 L236.8,610.5 Q240.2,612 243.6,610.5 L243.6,597.5"/>
<path class="t" d="M236.8,600 Q240.2,601.5 243.6,600 M236.8,602 Q240.2,603.5 243.6,602 M236.8,604 Q240.2,605.5 243.6,604 M236.8,606 Q240.2,607.5 243.6,606 M236.8,608 Q240.2,609.5 243.6,608"/>
<!-- part 14 sensor -->
<path class="w" d="M219.4,640 L219.4,650 Q221,653.5 226.9,653.5 Q233,653.5 234.4,650 L234.4,640 Z"/>
<path class="t" d="M222.5,644 L222.5,652 M227,645 L227,653 M231.5,644 L231.5,652"/>
<path class="w" d="M216.25,622.5 L216.25,635 L218.75,640 Q226,643 232.5,641.25 L246.25,637.5 Q248,635.5 247.5,632.5 Q246.5,629.5 243.75,627.5 L237.5,622.5 L236.25,617.5 Z"/>
<path class="l" d="M216.25,631 Q219,634.5 226,634.5 Q232,634 234.5,631.5 M218,636.5 Q225,640 234,637"/>
<path class="t" d="M221,632 L230,628 M222,634 L232,630"/>
<ellipse class="l" cx="240.6" cy="631.9" rx="2.7" ry="2.3"/>
<path class="l" d="M235,627 Q238,624.5 243.75,627.5 M234.5,631.5 L235.5,637.5"/>
<path class="w" d="M199.4,602.5 L208,596.25 L228.75,605 L232.5,610 L232.5,618.75 L226.25,623.75 L221.5,622.5 L218.75,617.5 L215,617.5 L199.4,608.75 Z"/>
<path class="l" d="M199.4,602.5 L217,611.5 Q221,613 221,617 L221.5,622.5 M217,611.5 L225,606.5 L228.75,605 M226.25,623.75 L226.25,614 L232.5,610"/>
<path class="l" d="M205,598.5 L222,606.5 M211,598.5 L211,601.5 L219,605" stroke-width="1.4"/>
<path class="l" d="M201,605 L215.5,613 M200.5,607 L215,615"/>
</g>

<!--FWD-->
<g id="fwd">
<path d="M598,77.2 L598,60.5 L622.5,47 L623,42 L637,48.5 L626,68.2 L623.5,65.5 L601.5,76.8 Z" fill="#0a0a0a" stroke="#0a0a0a" stroke-width=".8" stroke-linejoin="round"/>
<path d="M599.3,76 L599.3,61.3 L623.5,48" fill="none" stroke="#fdfffd" stroke-width=".6"/>
<text transform="translate(601.6,74) skewY(-23.5)" x="0" y="0" font-family="Liberation Sans" font-size="14.5" fill="#fdfffd" textLength="24.5" lengthAdjust="spacingAndGlyphs">FWD</text>
</g>

<!--LABELS-->
<g id="labels">
<g class="ld">
<path d="M551.25,89 L570.6,89"/><path d="M548,131.7 L567.5,131.7"/><path d="M545.4,246.6 L573.4,246.6"/><path d="M522.6,358.3 L548,358.3"/><path d="M545,480.75 L561.25,480.75"/>
<path d="M347,425 L363.5,425"/><path d="M347,451 L368,451"/><path d="M313.75,648 L341,648"/><path d="M541.5,555 L563.75,555"/><path d="M562,655 L581.25,655"/>
<path d="M336.2,696.5 L354,696.5"/><path d="M336.2,716.5 L354,716.5"/><path d="M336.2,734 L362.3,734"/><path d="M208.3,577.3 L208.3,597"/><path d="M247.5,592.75 L266.25,592.75"/>
</g>
<g class="n">
<text x="572.5" y="93.2">5</text><text x="569.8" y="135.4">6</text><text x="575.7" y="250.6">3</text><text x="551" y="362.1" textLength="12" lengthAdjust="spacingAndGlyphs">10</text><text x="562" y="485">1</text>
<text x="338" y="429">4</text><text x="338.4" y="455">2</text><text x="305" y="652.4">7</text><text x="565.5" y="559.5">8</text><text x="583.7" y="659.2">9</text>
<text x="322" y="700.8" textLength="12" lengthAdjust="spacingAndGlyphs">11</text><text x="322" y="720.5" textLength="12.4" lengthAdjust="spacingAndGlyphs">12</text><text x="322" y="738" textLength="12.4" lengthAdjust="spacingAndGlyphs">13</text>
<text x="202.2" y="575.8" textLength="12.6" lengthAdjust="spacingAndGlyphs">14</text><text x="268.6" y="596.3" textLength="12.6" lengthAdjust="spacingAndGlyphs">15</text>
</g>
</g>

</svg>
</body></html>
